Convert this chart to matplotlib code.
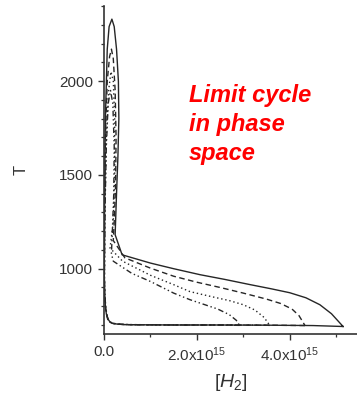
import numpy as np
import matplotlib
matplotlib.use("Agg")
import matplotlib.pyplot as plt

plt.rcParams['font.family'] = ['Liberation Sans', 'DejaVu Sans']
plt.rcParams['mathtext.fontset'] = 'custom'
plt.rcParams['mathtext.rm'] = 'Liberation Sans'
plt.rcParams['mathtext.it'] = 'Liberation Sans:italic'

# ---- data: [H2] in units of 1e15, T in K ----
h2_solid = [5.15, 4.5, 3.5, 2.5, 1.5, 0.8, 0.45, 0.28, 0.18, 0.13, 0.09, 0.05, 0.03, 0.015, 0.005,
            0.01, 0.02, 0.03, 0.07, 0.11, 0.17, 0.22, 0.27, 0.31, 0.32, 0.30, 0.27, 0.24,
            0.39, 1.0, 1.5, 2.07, 2.6, 3.15, 3.6, 4.0, 4.35, 4.65, 4.9, 5.15]
t_solid = [692, 697, 699, 700, 700, 701, 702, 705, 709, 716, 730, 760, 800, 860, 950,
           1200, 1600, 1800, 2170, 2290, 2330, 2290, 2170, 2000, 1800, 1600, 1400, 1181,
           1074, 1030, 1000, 968, 943, 915, 893, 872, 845, 808, 760, 692]

h2_dash = [4.33, 3.5, 2.5, 1.5, 0.8, 0.45, 0.28, 0.18, 0.12, 0.08, 0.05, 0.03, 0.015, 0.008,
           0.015, 0.03, 0.07, 0.12, 0.16, 0.20, 0.24, 0.26, 0.25, 0.22, 0.20,
           0.45, 1.0, 1.5, 2.0, 2.5, 3.0, 3.5, 3.8, 4.05, 4.2, 4.33]
t_dash = [697, 699, 700, 700, 701, 702, 705, 709, 716, 730, 760, 800, 860, 950,
          1300, 1700, 2000, 2130, 2170, 2120, 1950, 1700, 1450, 1250, 1150,
          1058, 1003, 960, 928, 900, 870, 838, 815, 785, 750, 697]

h2_dot = [3.57, 3.0, 2.0, 1.2, 0.6, 0.35, 0.22, 0.14, 0.09, 0.06, 0.035, 0.02, 0.01,
          0.02, 0.05, 0.10, 0.15, 0.20, 0.23, 0.23, 0.20, 0.13,
          0.4, 1.0, 1.5, 1.85, 2.3, 2.7, 3.0, 3.25, 3.45, 3.57]
t_dot = [698, 700, 700, 701, 702, 704, 708, 715, 728, 755, 800, 860, 950,
         1300, 1700, 1950, 2050, 2000, 1800, 1500, 1250, 1110,
         1040, 965, 915, 878, 852, 830, 808, 780, 740, 698]

h2_dashdot = [2.92, 2.4, 1.6, 1.0, 0.55, 0.32, 0.2, 0.13, 0.09, 0.06, 0.035, 0.02, 0.01,
              0.02, 0.05, 0.09, 0.14, 0.19, 0.22, 0.21, 0.18, 0.16,
              0.2, 0.6, 1.0, 1.5, 1.85, 2.15, 2.45, 2.7, 2.85, 2.92]
t_dashdot = [698, 700, 700, 701, 702, 704, 708, 715, 728, 755, 800, 860, 950,
             1300, 1650, 1880, 1950, 1880, 1650, 1400, 1200, 1080,
             1040, 975, 932, 870, 835, 810, 785, 755, 725, 698]

curves = [(h2_solid, t_solid, '-'),
          (h2_dash, t_dash, (0, (4, 2.5))),
          (h2_dot, t_dot, (0, (1, 2))),
          (h2_dashdot, t_dashdot, (0, (4, 2, 1, 2, 1, 2)))]

fig = plt.figure(figsize=(3.57, 3.96), dpi=100)
ax = fig.add_axes([104 / 357, 62 / 396, 253 / 357, 328 / 396])

for h2, t, ls in curves:
    ax.plot(np.array(h2) * 1e15, t, color='#262626', lw=1.0, linestyle=ls)

ax.set_xlim(0, 5.45e15)
ax.set_ylim(652, 2400)

ax.spines['top'].set_visible(False)
ax.spines['right'].set_visible(False)
for s in ('left', 'bottom'):
    ax.spines[s].set_linewidth(1.2)
    ax.spines[s].set_color('#333333')

ax.set_yticks([1000, 1500, 2000])
ax.set_yticks(np.arange(700, 2401, 100), minor=True)
ax.set_xticks([0, 2e15, 4e15], ['0.0', r'2.0x10$^{15}$', r'4.0x10$^{15}$'])
ax.set_xticks([1e15, 3e15, 5e15], minor=True)
ax.tick_params(which='major', direction='out', length=4.5, width=1.0, colors='#333333',
               labelsize=11, labelcolor='#333333')
ax.tick_params(which='minor', direction='out', length=2.5, width=0.9, colors='#333333')

ax.set_xlabel(r'$[H_2]$', fontsize=14, color='#333333', labelpad=6)
ax.set_ylabel('T', fontsize=12, color='#333333', labelpad=22)

fig.text(189 / 357, 1 - 84 / 396, 'Limit cycle\nin phase\nspace', color='red',
         fontsize=17, fontweight='bold', fontstyle='italic', ha='left', va='top',
         linespacing=1.32)

fig.savefig('out.png', dpi=100)
